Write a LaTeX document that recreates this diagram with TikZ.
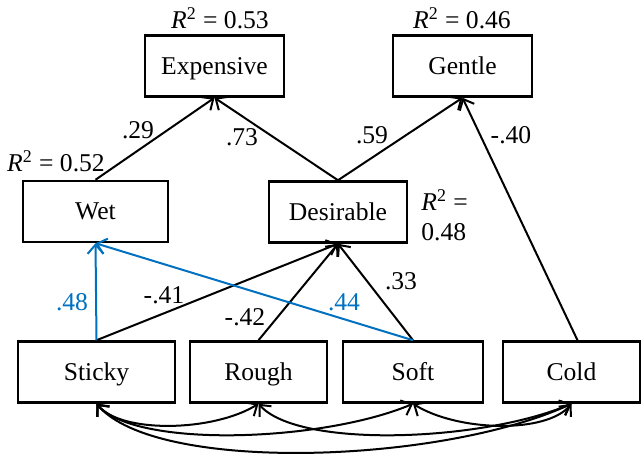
\documentclass[tikz,border=0pt]{standalone}
\usepackage{fontspec}
\setmainfont{Liberation Serif}
\usetikzlibrary{arrows.meta}
\definecolor{pathblue}{RGB}{0,112,192}
\newcommand{\rsq}[1]{\textit{R}\textsuperscript{2} = #1}
\begin{document}
\begin{tikzpicture}[x=0.5pt,y=-0.5pt,
  font=\fontsize{12.8}{15}\selectfont,
  var/.style={draw,line width=1.25pt,minimum height=30.5pt,inner sep=0pt,
    text height=8.4pt,text depth=0pt},
  tip/.style={Straight Barb[length=4.5pt,width=8pt,line width=1pt]},
  path/.style={line width=1pt,-{Straight Barb[length=4.5pt,width=8pt,line width=1pt]}},
  cov/.style={line width=1pt,{Straight Barb[length=4.5pt,width=8pt,line width=1pt]}-{Straight Barb[length=4.5pt,width=8pt,line width=1pt]}},
  coef/.style={inner sep=0pt},
  blue path/.style={path,draw=pathblue}]
\useasboundingbox (0,0) rectangle (643,454);

% latent outcomes
\node[var,minimum width=69.5pt] (exp) at (214.5,66) {Expensive};
\node[var,minimum width=69.5pt] (gen) at (462.5,66) {Gentle};
% mediators
\node[var,minimum width=72.5pt] (wet) at (95.5,211.5) {Wet};
\node[var,minimum width=69pt] (des) at (338,212) {Desirable};
% predictors
\node[var,minimum width=78.5pt] (sti) at (96.5,372) {Sticky};
\node[var,minimum width=68.5pt] (rou) at (258.5,372) {Rough};
\node[var,minimum width=70pt] (sof) at (413,372) {Soft};
\node[var,minimum width=68.5pt] (col) at (571.5,372) {Cold};

% explained variance
\node[coef] (r1) at (220,18) {\rsq{0.53}};
\node[coef] (r2) at (462,18) {\rsq{0.46}};
\node[coef] (r3) at (56,161) {\rsq{0.52}};
\node[coef,anchor=west,align=left] (r4) at (421,215) {\textit{R}\textsuperscript{2} =\\0.48};

% paths to the outcomes
\draw[path] (wet.north) -- (exp.south);
\draw[path] (des.north) -- (exp.south);
\draw[path] (des.north) -- (gen.south);
\draw[path] ([xshift=3pt]col.north) -- (gen.south);

% paths to the mediators
\draw[path] (sti.north) -- (des.south);
\draw[path] (rou.north) -- (des.south);
\draw[path] (sof.north) -- (des.south);
\draw[blue path] (sti.north) -- (wet.south);
\draw[blue path] (sof.north) -- (wet.south);

% path coefficients
\node[coef] (c1) at (138,130) {.29};
\node[coef] (c2) at (242,137) {.73};
\node[coef] (c3) at (372,135) {.59};
\node[coef] (c4) at (511,135) {-.40};
\node[coef,text=pathblue] (c5) at (72,302) {.48};
\node[coef] (c6) at (164,295) {-.41};
\node[coef,text=pathblue] (c7) at (344,302) {.44};
\node[coef] (c8) at (401,281) {.33};
\node[coef] (c9) at (245,317) {-.42};

% correlations among predictors
\draw[cov] (sti.south) .. controls +(25,30) and +(-45,28) .. (rou.south);
\draw[cov] (sti.south) .. controls +(40,45) and +(-90,38) .. (sof.south);
\draw[cov] (sti.south) .. controls +(60,70) and +(-130,60) .. (col.south);
\draw[cov] (rou.south) .. controls +(40,45) and +(-90,38) .. (col.south);
\draw[cov] (sof.south) .. controls +(45,28) and +(-25,30) .. (col.south);
\end{tikzpicture}
\end{document}
